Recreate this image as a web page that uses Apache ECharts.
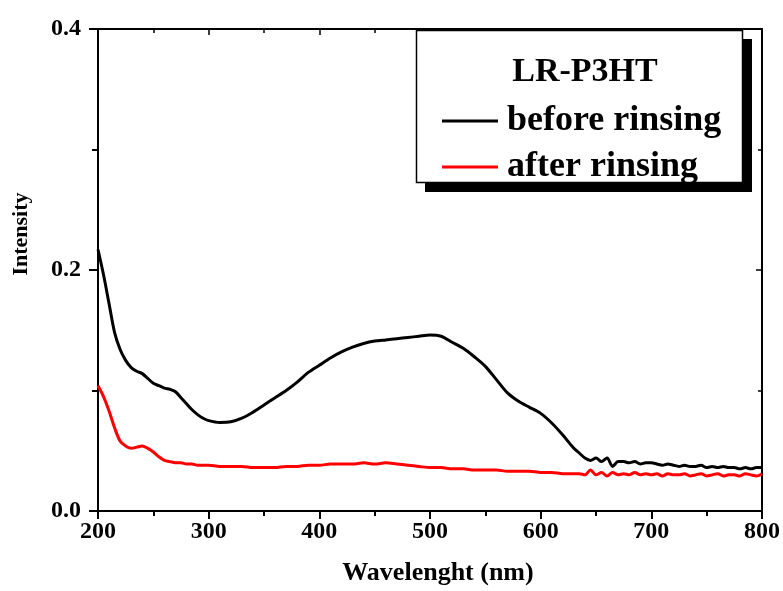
<!DOCTYPE html>
<html>
<head>
<meta charset="utf-8">
<script src="https://cdn.jsdelivr.net/npm/echarts@6/dist/echarts.min.js"></script>
<style>
  html, body { margin: 0; padding: 0; background: #fff; }
  #chart { width: 783px; height: 591px; }
</style>
</head>
<body>
<div id="chart"></div>
<script>
// Absorption spectra of LR-P3HT film, before and after rinsing
const wavelength = [
  200, 205, 210, 215, 220, 225, 230, 235, 240, 245, 250, 255, 260, 265, 270, 275, 280, 285, 290, 295, 300,
  310, 320, 330, 340, 350, 360, 370, 380, 390, 400, 410, 420, 430, 440, 450, 460, 470, 480, 490, 500,
  510, 520, 530, 540, 550, 560, 570, 580, 590, 600, 610, 620, 630,
  635, 640, 645, 650, 655, 660, 665, 670, 675, 680, 685, 690, 695, 700, 705, 710, 715, 720, 725, 730,
  735, 740, 745, 750, 755, 760, 765, 770, 775, 780, 785, 790, 795, 800
];
const beforeRinsing = [
  0.217, 0.196, 0.172, 0.148, 0.134, 0.125, 0.119, 0.116, 0.114, 0.110, 0.106, 0.104, 0.102, 0.101, 0.099, 0.094, 0.089, 0.084, 0.080, 0.077, 0.075,
  0.0735, 0.074, 0.077, 0.082, 0.088, 0.094, 0.100, 0.107, 0.115, 0.121, 0.127, 0.132, 0.136, 0.139, 0.141, 0.142, 0.143, 0.144, 0.145, 0.146,
  0.145, 0.140, 0.135, 0.128, 0.120, 0.109, 0.098, 0.091, 0.086, 0.081, 0.073, 0.063, 0.052,
  0.048, 0.044, 0.042, 0.044, 0.041, 0.044, 0.037, 0.041, 0.041, 0.040, 0.041, 0.039, 0.040, 0.040, 0.039, 0.038, 0.039, 0.038, 0.037, 0.038,
  0.037, 0.037, 0.038, 0.036, 0.037, 0.036, 0.037, 0.036, 0.036, 0.035, 0.036, 0.035, 0.036, 0.036
];
const afterRinsing = [
  0.104, 0.095, 0.083, 0.069, 0.058, 0.054, 0.052, 0.053, 0.054, 0.052, 0.049, 0.045, 0.042, 0.041, 0.040, 0.040, 0.039, 0.039, 0.038, 0.038, 0.038,
  0.037, 0.037, 0.037, 0.036, 0.036, 0.036, 0.037, 0.037, 0.038, 0.038, 0.039, 0.039, 0.039, 0.040, 0.039, 0.040, 0.039, 0.038, 0.037, 0.036,
  0.036, 0.035, 0.035, 0.034, 0.034, 0.034, 0.033, 0.033, 0.033, 0.032, 0.032, 0.031, 0.031,
  0.031, 0.030, 0.034, 0.030, 0.032, 0.029, 0.032, 0.030, 0.031, 0.030, 0.032, 0.030, 0.031, 0.030, 0.031, 0.029, 0.031, 0.030, 0.030, 0.031,
  0.029, 0.030, 0.031, 0.029, 0.030, 0.031, 0.029, 0.030, 0.030, 0.029, 0.031, 0.030, 0.029, 0.031
];
const xTicks = { min: 200, max: 800, step: 100 };
const yTicks = { min: 0, max: 0.4, step: 0.2 };
const seriesNames = ['before rinsing', 'after rinsing'];
const legendTitle = 'LR-P3HT';

const FONT = '"Liberation Serif", "Times New Roman", serif';
const pairs = (ys) => wavelength.map((x, i) => [x, ys[i]]);

const chart = echarts.init(document.getElementById('chart'), null, { renderer: 'canvas' });

const axisLine = { show: true, onZero: false, lineStyle: { color: '#000', width: 2 } };

chart.setOption({
  animation: false,
  backgroundColor: '#fff',
  grid: { left: 98, right: 21, top: 29, bottom: 77, containLabel: false },
  xAxis: [
    {
      type: 'value', position: 'bottom',
      min: xTicks.min, max: xTicks.max, interval: xTicks.step,
      axisLine,
      axisTick: { show: true, inside: false, length: 8, lineStyle: { color: '#000', width: 2 } },
      minorTick: { show: true, splitNumber: 2, length: 5, lineStyle: { color: '#000', width: 2 } },
      splitLine: { show: false },
      axisLabel: { color: '#000', fontFamily: FONT, fontWeight: 'bold', fontSize: 24, margin: 9 },
      name: 'Wavelenght (nm)', nameLocation: 'middle', nameGap: 49,
      nameTextStyle: { color: '#000', fontFamily: FONT, fontWeight: 'bold', fontSize: 26, padding: [0, 0, 0, 16] }
    },
    {
      type: 'value', position: 'top',
      min: xTicks.min, max: xTicks.max, interval: xTicks.step,
      axisLine,
      axisTick: { show: true, inside: true, length: 6, lineStyle: { color: '#000', width: 1.5 } },
      minorTick: { show: true, splitNumber: 2, length: 4, lineStyle: { color: '#000', width: 1.5 } },
      splitLine: { show: false },
      axisLabel: { show: false }
    }
  ],
  yAxis: [
    {
      type: 'value', position: 'left',
      min: yTicks.min, max: yTicks.max, interval: yTicks.step,
      axisLine,
      axisTick: { show: true, inside: false, length: 9, lineStyle: { color: '#000', width: 2 } },
      minorTick: { show: true, splitNumber: 2, length: 6, lineStyle: { color: '#000', width: 2 } },
      splitLine: { show: false },
      axisLabel: { color: '#000', fontFamily: FONT, fontWeight: 'bold', fontSize: 24, margin: 17,
                   formatter: (v) => v.toFixed(1) },
      name: 'Intensity', nameLocation: 'middle', nameGap: 66,
      nameTextStyle: { color: '#000', fontFamily: FONT, fontWeight: 'bold', fontSize: 22, padding: [0, 0, 0, 72] }
    },
    {
      type: 'value', position: 'right',
      min: yTicks.min, max: yTicks.max, interval: yTicks.step,
      axisLine,
      axisTick: { show: true, inside: true, length: 6, lineStyle: { color: '#000', width: 1.5 } },
      minorTick: { show: true, splitNumber: 2, length: 4, lineStyle: { color: '#000', width: 1.5 } },
      splitLine: { show: false },
      axisLabel: { show: false }
    }
  ],
  legend: {
    show: true,
    orient: 'vertical',
    left: 437, top: 96,
    z: 20,
    icon: 'rect',
    itemWidth: 56, itemHeight: 3, itemGap: 6,
    textStyle: { color: '#000', fontFamily: FONT, fontWeight: 'bold', fontSize: 36, lineHeight: 40, padding: [0, 0, 0, 4] },
    data: seriesNames
  },
  graphic: [
    // legend frame with drop shadow
    { type: 'rect', z: 10, shape: { x: 425, y: 39, width: 327, height: 153 }, style: { fill: '#000' } },
    { type: 'rect', z: 11, shape: { x: 416.5, y: 30.5, width: 326, height: 152 }, style: { fill: '#fff', stroke: '#000', lineWidth: 1.5 } },
    { type: 'text', z: 12, x: 585, y: 72,
      style: { text: legendTitle, fill: '#000', font: 'bold 34px ' + FONT, align: 'center', verticalAlign: 'middle' } }
  ],
  series: [
    {
      name: seriesNames[0], type: 'line', xAxisIndex: 0, yAxisIndex: 0,
      data: pairs(beforeRinsing), symbol: 'none', showSymbol: false, smooth: 0.3,
      lineStyle: { color: '#000', width: 3 }, itemStyle: { color: '#000' }
    },
    {
      name: seriesNames[1], type: 'line', xAxisIndex: 0, yAxisIndex: 0,
      data: pairs(afterRinsing), symbol: 'none', showSymbol: false, smooth: 0.3,
      lineStyle: { color: '#ff0000', width: 3 }, itemStyle: { color: '#ff0000' }
    }
  ]
});
</script>
</body>
</html>
